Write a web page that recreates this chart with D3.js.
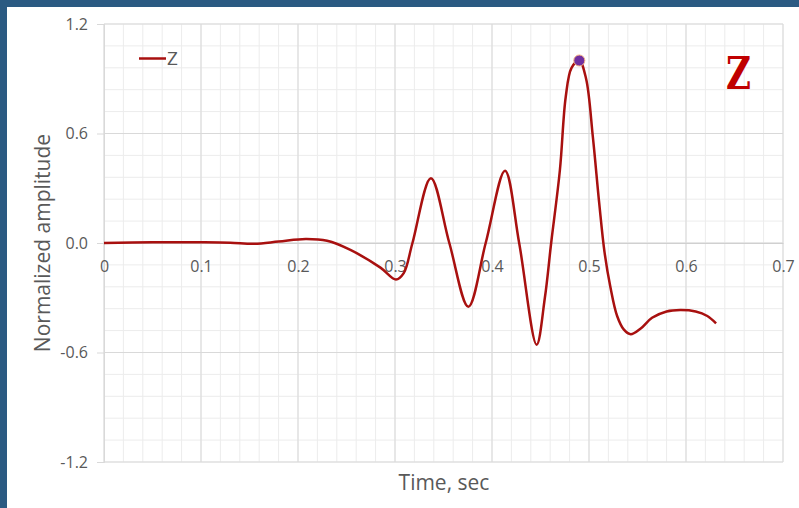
<!DOCTYPE html>
<html>
<head>
<meta charset="utf-8">
<script src="https://cdn.jsdelivr.net/npm/d3@7"></script>
<style>
  body { margin: 0; background: #fff; }
  text { font-family: "Open Sans", sans-serif; }
</style>
</head>
<body>
<div id="chart"></div>
<script>
// values
var time = [0.000, 0.050, 0.100, 0.130, 0.155, 0.180, 0.208, 0.230, 0.254, 0.285, 0.301, 0.309,
            0.318, 0.337, 0.356, 0.3756, 0.3935, 0.4134, 0.428, 0.446, 0.4545, 0.461, 0.470, 0.476,
            0.482, 0.490, 0.497, 0.504, 0.5105, 0.516, 0.522, 0.529, 0.536, 0.543, 0.553, 0.565, 0.580,
            0.594, 0.610, 0.622, 0.631];
var amplitude = [0.000, 0.004, 0.004, 0.002, -0.004, 0.008, 0.022, 0.012, -0.038, -0.135, -0.200, -0.165,
                 0.000, 0.355, 0.000, -0.349, 0.000, 0.396, 0.000, -0.557, -0.300, 0.000, 0.400, 0.800,
                 0.960, 1.000, 0.900, 0.580, 0.220, -0.050, -0.240, -0.400, -0.475, -0.500, -0.470, -0.410, -0.375,
                 -0.367, -0.375, -0.400, -0.440];
var xTicks = [0, 0.1, 0.2, 0.3, 0.4, 0.5, 0.6, 0.7];
var yTicks = [-1.2, -0.6, 0.0, 0.6, 1.2];
var seriesName = "Z";
var peakPoint = [0.490, 1.000];

var width = 799;
var height = 508;
var plotLeft = 104, plotRight = 783, plotTop = 24, plotBottom = 462;

var svg = d3.select("#chart")
    .append("svg")
    .attr("width", width)
    .attr("height", height);

// frame
svg.append("rect").attr("width", width).attr("height", height).attr("fill", "#2b5a82");
svg.append("rect").attr("x", 7).attr("y", 7).attr("width", width - 7).attr("height", height - 7).attr("fill", "#ffffff");

var x = d3.scaleLinear().domain([0, 0.7]).range([plotLeft, plotRight]);
var y = d3.scaleLinear().domain([-1.2, 1.2]).range([plotBottom, plotTop]);

// minor grid
var minorX = d3.range(0, 36).map(function(i) { return i * 0.02; });
var minorY = d3.range(0, 21).map(function(i) { return -1.2 + i * 0.12; });

var grid = svg.append("g");
grid.selectAll(".mx").data(minorX).enter().append("line")
    .attr("x1", function(d) { return x(d); }).attr("x2", function(d) { return x(d); })
    .attr("y1", plotTop).attr("y2", plotBottom)
    .attr("stroke", "#ececec").attr("stroke-width", 1);
grid.selectAll(".my").data(minorY).enter().append("line")
    .attr("x1", plotLeft).attr("x2", plotRight)
    .attr("y1", function(d) { return y(d); }).attr("y2", function(d) { return y(d); })
    .attr("stroke", "#ececec").attr("stroke-width", 1);

// major grid
grid.selectAll(".Mx").data(xTicks).enter().append("line")
    .attr("x1", function(d) { return x(d); }).attr("x2", function(d) { return x(d); })
    .attr("y1", plotTop).attr("y2", plotBottom)
    .attr("stroke", "#d9d9d9").attr("stroke-width", 1);
grid.selectAll(".My").data(yTicks).enter().append("line")
    .attr("x1", plotLeft).attr("x2", plotRight)
    .attr("y1", function(d) { return y(d); }).attr("y2", function(d) { return y(d); })
    .attr("stroke", "#d9d9d9").attr("stroke-width", 1);

// y axis
var yAxis = svg.append("g")
    .attr("transform", "translate(" + plotLeft + ",0)")
    .call(d3.axisLeft(y).tickValues(yTicks).tickSize(7).tickPadding(9)
        .tickFormat(function(d) { return d.toFixed(1); }));
yAxis.select(".domain").attr("stroke", "#d9d9d9");
yAxis.selectAll(".tick line").attr("stroke", "#d9d9d9");
yAxis.selectAll("text").attr("font-family", "Open Sans").attr("font-size", 16).attr("fill", "#595959");

// x axis, crossing at zero
var xAxis = svg.append("g")
    .attr("transform", "translate(0," + y(0) + ")")
    .call(d3.axisBottom(x).tickValues(xTicks).tickSize(0).tickPadding(18)
        .tickFormat(function(d) { return d === 0 ? "0" : d.toFixed(1); }));
xAxis.select(".domain").attr("stroke", "#d0d0d0");
xAxis.selectAll("text").attr("font-family", "Open Sans").attr("font-size", 16).attr("fill", "#595959")
    .attr("y", 29).attr("dy", 0);

// series
var line = d3.line()
    .x(function(d, i) { return x(time[i]); })
    .y(function(d) { return y(d); })
    .curve(d3.curveCatmullRom.alpha(0.5));

svg.append("path")
    .datum(amplitude)
    .attr("d", line)
    .attr("fill", "none")
    .attr("stroke", "#a8100f")
    .attr("stroke-width", 2.5);

svg.append("circle")
    .attr("cx", x(peakPoint[0]))
    .attr("cy", y(peakPoint[1]))
    .attr("r", 5.5)
    .attr("fill", "#7030a0")
    .attr("stroke", "#f4b183")
    .attr("stroke-width", 1);

// legend
svg.append("line")
    .attr("x1", 139).attr("x2", 166).attr("y1", 58.5).attr("y2", 58.5)
    .attr("stroke", "#a8100f").attr("stroke-width", 2.5);
svg.append("text")
    .attr("x", 167).attr("y", 65)
    .attr("font-size", 19).attr("fill", "#595959")
    .text(seriesName);

// big label
svg.append("text")
    .attr("x", 726).attr("y", 89)
    .attr("font-weight", "bold")
    .attr("font-size", 45).attr("fill", "#c00000")
    .attr("textLength", 25).attr("lengthAdjust", "spacingAndGlyphs")
    .style("font-family", "DejaVu Serif")
    .text(seriesName);

// axis titles
svg.append("text")
    .attr("transform", "translate(50,243) rotate(-90)")
    .attr("text-anchor", "middle")
    .attr("font-size", 21).attr("fill", "#595959")
    .text("Normalized amplitude");

svg.append("text")
    .attr("x", 444).attr("y", 490)
    .attr("text-anchor", "middle")
    .attr("font-size", 21).attr("fill", "#595959")
    .text("Time, sec");
</script>
</body>
</html>
